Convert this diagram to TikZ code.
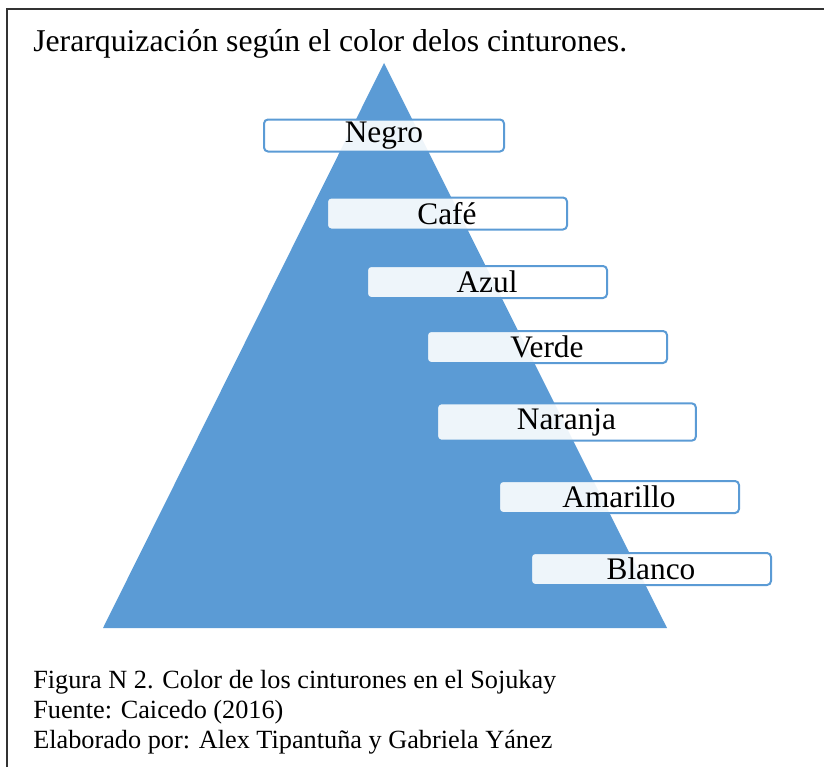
\documentclass[tikz,border=0pt]{standalone}
\usepackage{fontspec}
\setmainfont{Liberation Serif}
\definecolor{azulpir}{HTML}{5B9BD5}
\begin{document}
\begin{tikzpicture}[x=0.75pt,y=-0.75pt,
	cinta/.style={draw=azulpir,line width=1.5pt,rounded corners=3pt,
		fill=white,fill opacity=0.9,text opacity=1,
		minimum width=180pt,minimum height=24pt,inner sep=0pt,
		font=\fontsize{23.5}{26}\selectfont}]
	\useasboundingbox (0,0) rectangle (824,767);
	% marco
	\draw[line width=1pt,black!80] (7,767) -- (7,9) -- (824,9);
	\node[anchor=base west,inner sep=0pt,font=\fontsize{23.8}{26}\selectfont](titulo) at (33,52)
		{Jerarquización según el color delos cinturones.};
	% piramide
	\fill[azulpir] (384,63) -- (667,628) -- (103,628) -- cycle;
	\node[cinta](negro) at (384,135.5) {Negro};
	\node[cinta](cafe) at (447,213.5) {Café};
	\node[cinta](azul) at (487,282) {Azul};
	\node[cinta](verde) at (547,347) {Verde};
	\node[cinta,minimum width=194pt,minimum height=28pt](naranja) at (566.5,422) {Naranja};
	\node[cinta](amarillo) at (619,497) {Amarillo};
	\node[cinta](blanco) at (651,569) {Blanco};
	% pie de figura
	\node[anchor=base west,inner sep=0pt,align=left,font=\fontsize{19.7}{22.5}\selectfont](pie) at (33,748)
		{Figura N 2. Color de los cinturones en el Sojukay\\
		Fuente: Caicedo (2016)\\
		Elaborado por: Alex Tipantuña y Gabriela Yánez};
\end{tikzpicture}
\end{document}
